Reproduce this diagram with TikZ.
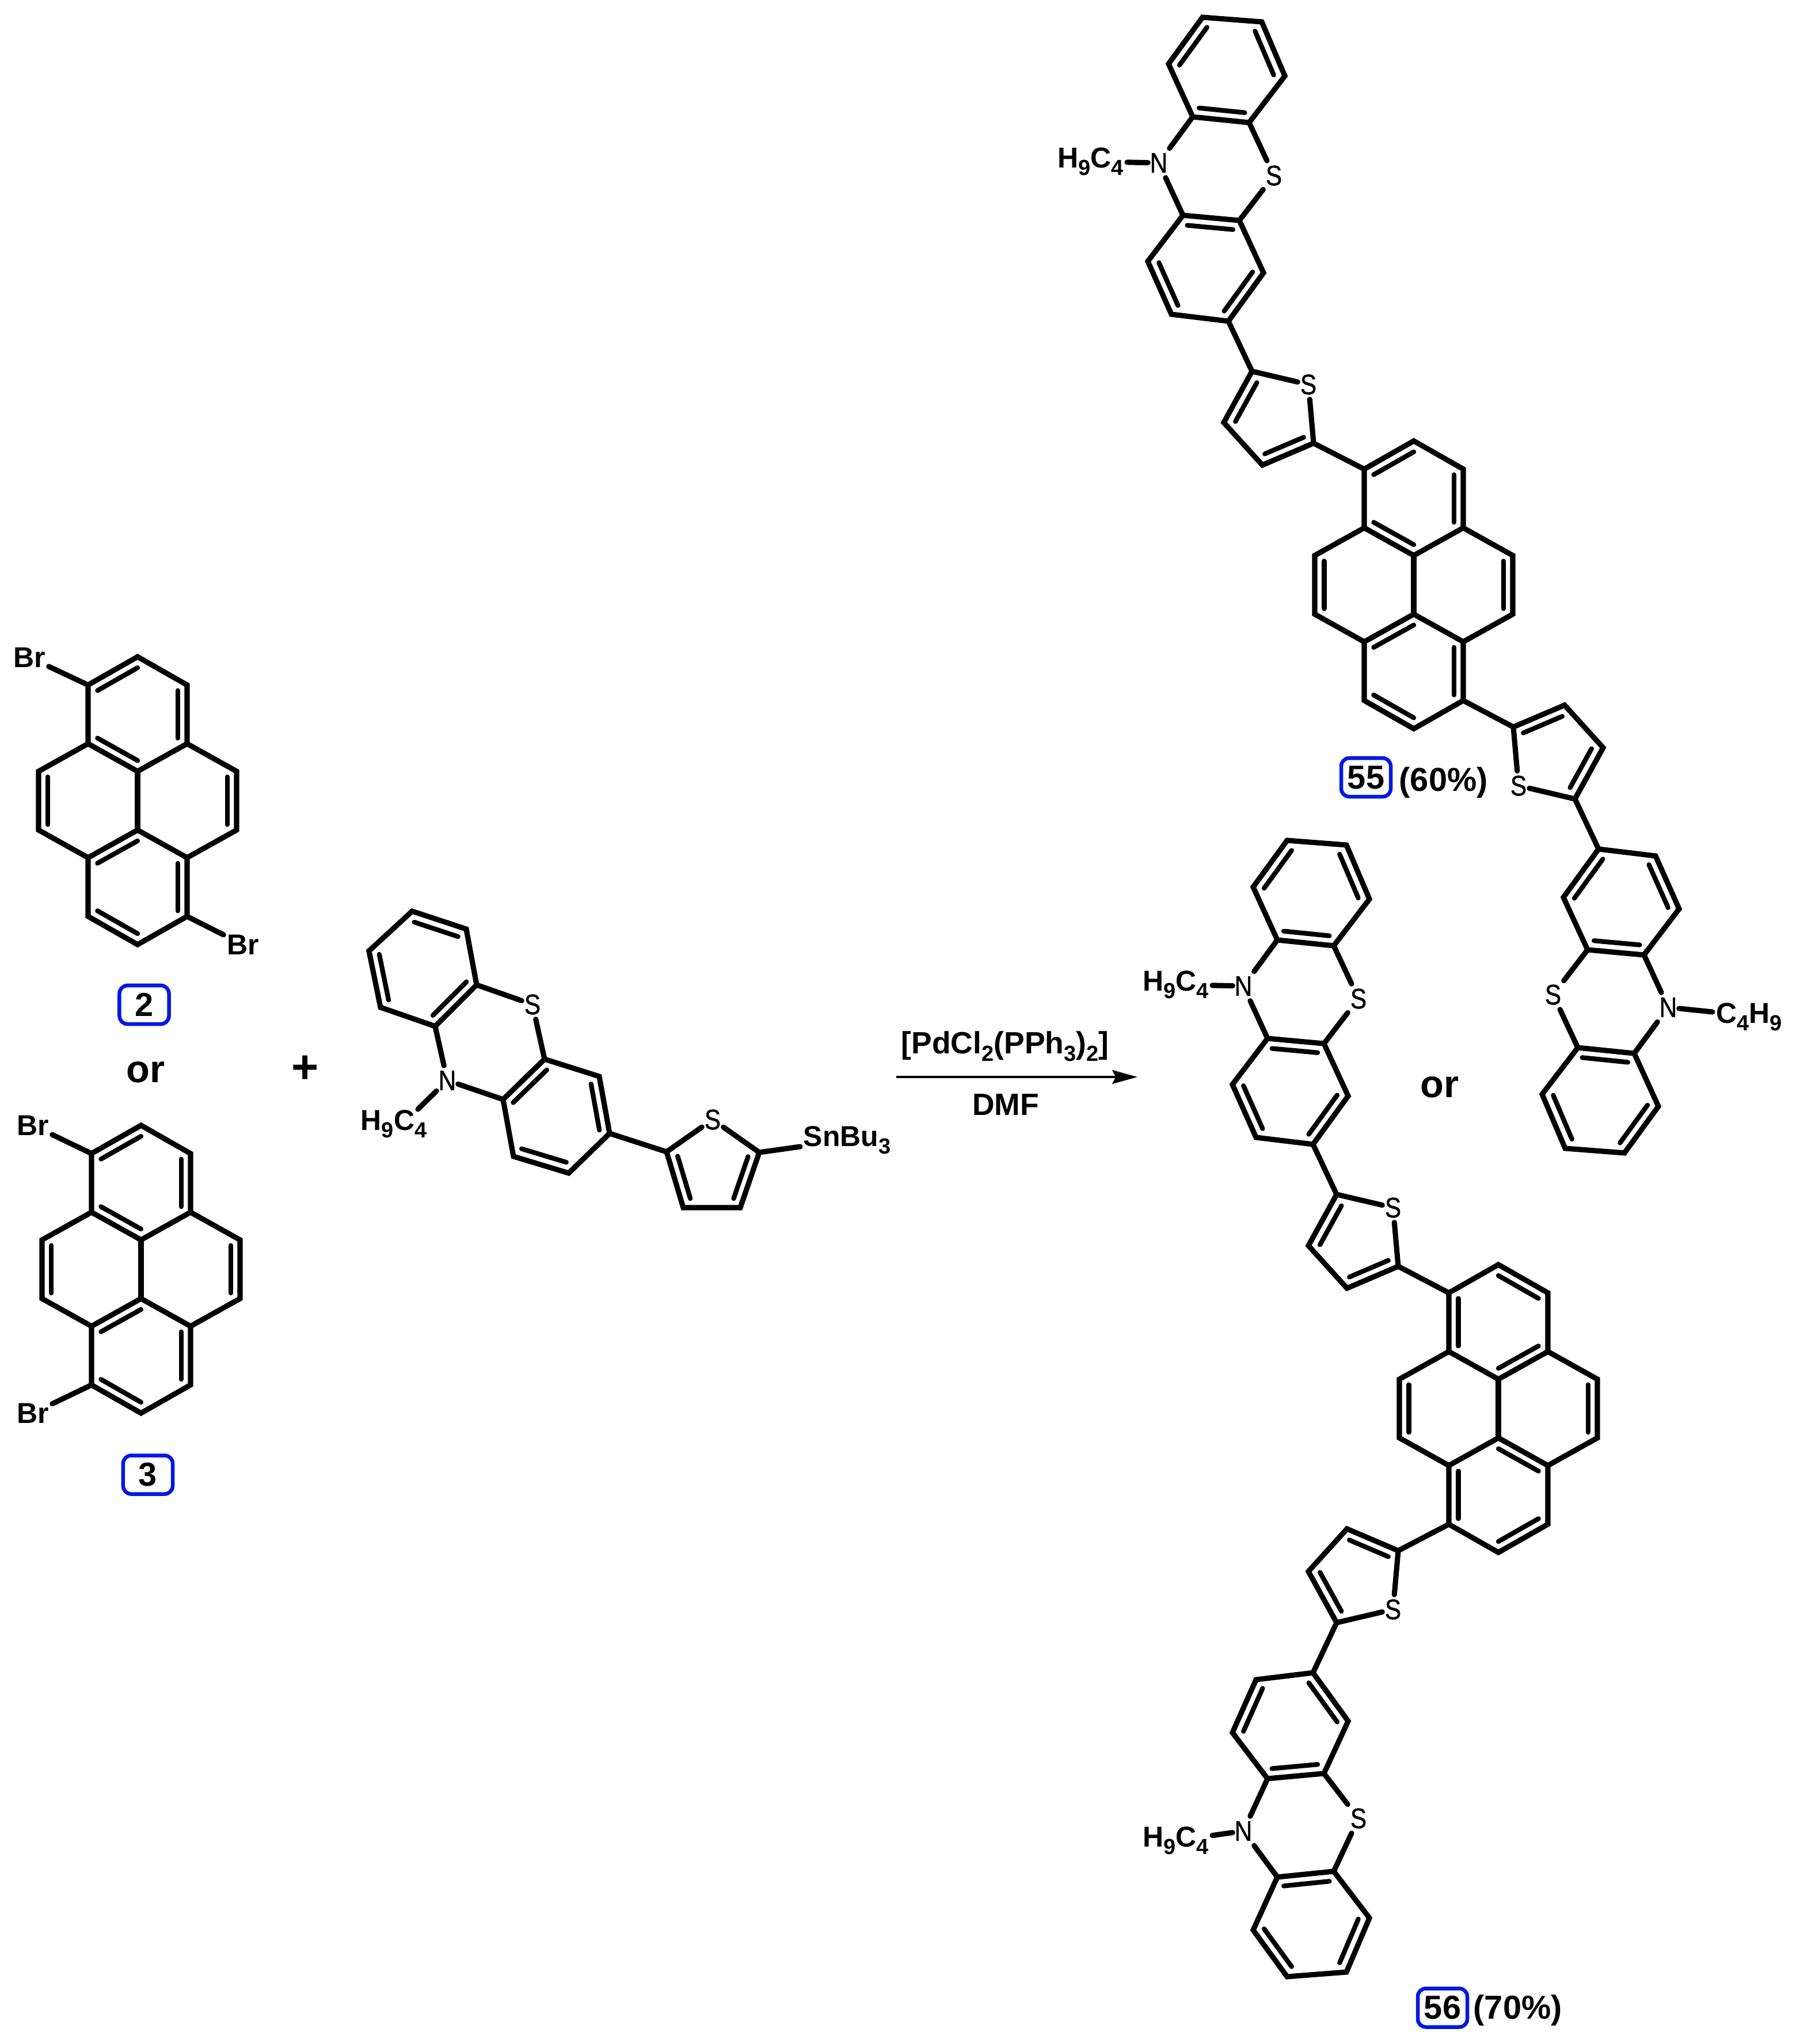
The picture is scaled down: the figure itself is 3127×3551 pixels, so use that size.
\documentclass[tikz,border=0pt]{standalone}
\usepackage{fontspec}
\setmainfont{Liberation Sans}
\newfontfamily\atomfont[FakeBold=1.0,FakeStretch=0.86]{Liberation Sans}
\usetikzlibrary{calc,arrows.meta}
\definecolor{boxblue}{RGB}{0,24,230}
\newcommand{\chsub}[1]{\raisebox{-3.9pt}{\fontsize{10.8}{12}\selectfont #1}}
\newcommand{\dbl}[4][.19]{\draw[innerbond] ($(#2)!#1!(#4)$) -- ($(#3)!#1!(#4)$);}
\tikzset{
    bond/.style={line width=2.6pt,line join=miter,line cap=round},
    innerbond/.style={line width=2.35pt,line cap=round},
    atom/.style={font=\atomfont\fontsize{14}{16}\selectfont,inner sep=0pt,minimum width=.36cm,minimum height=.5cm},
    lbl/.style={font=\bfseries\fontsize{14.2}{16}\selectfont,inner sep=1.5pt},
    reagent/.style={font=\bfseries\fontsize{15.2}{17}\selectfont,inner sep=0pt},
    capt/.style={font=\bfseries\fontsize{16.4}{18}\selectfont,inner sep=0pt},
    cmpd/.style={capt,draw=boxblue,line width=1.85pt,rounded corners=4pt,minimum width=.86cm,minimum height=.67cm},
    bigor/.style={font=\bfseries\fontsize{19}{21}\selectfont,inner sep=0pt},
    rxnarrow/.style={line width=1pt,-{Stealth[length=12.5pt,width=6.8pt,inset=1.8pt]}},
    pics/pyrene/.style={code={
        \foreach \n/\x/\y in {top/0/-250,upl/-86/-201,upr/86/-201,mul/-86/-99,mur/86/-99,ct/0/-51,cb/0/51,
            lf/-172/-51,lg/-172/51,rf/172/-51,rg/172/51,lwl/-86/99,lwr/86/99,btl/-86/201,btr/86/201,bot/0/250,
            rt/0/-150,rl/-86/0,rr/86/0,rb/0/150}
            {\coordinate (-\n) at (\x,\y);}
        \draw[bond] (-top) -- (-upr) -- (-mur) -- (-rf) -- (-rg) -- (-lwr) -- (-btr) -- (-bot) -- (-btl) -- (-lwl) -- (-lg) -- (-lf) -- (-mul) -- (-upl) -- cycle;
        \draw[bond] (-mul) -- (-ct) -- (-mur);
        \draw[bond] (-lwl) -- (-cb) -- (-lwr);
        \draw[bond] (-ct) -- (-cb);
        \dbl{-upl}{-top}{-rt}
        \dbl{-upr}{-mur}{-rt}
        \dbl{-mul}{-ct}{-rt}
        \dbl{-lf}{-lg}{-rl}
        \dbl{-rf}{-rg}{-rr}
        \dbl{-lwl}{-cb}{-rb}
        \dbl{-lwr}{-btr}{-rb}
        \dbl{-btl}{-bot}{-rb}
    }},
    pics/arm/.style={code={
        \foreach \n/\x/\y in {a1/-366/-987,a2/-263/-979,a3/-223/-885,a4/-285/-804,a5/-383/-814,a6/-425/-906,
            b1/-400/-643,b2/-302/-634,b3/-260/-543,b4/-321/-459,b5/-420/-471,b6/-461/-563,
            t1/-280/-372,t2/-173/-247,t3/-262/-209,t4/-329/-283,ca/-325/-895,cb/-360/-551,ct/-245/-290}
            {\coordinate (-\n) at (\x,\y);}
        \node[atom] (-s) at (-242,-712) {S};
        \node[atom] (-n) at (-442,-734) {N};
        \node[atom] (-q) at (-182,-349) {S};
        \draw[bond] (-a1) -- (-a2) -- (-a3) -- (-a4) -- (-a5) -- (-a6) -- cycle;
        \draw[bond] (-b1) -- (-b2) -- (-b3) -- (-b4) -- (-b5) -- (-b6) -- cycle;
        \draw[bond] (-a5) -- (-n);
        \draw[bond] (-n) -- (-b1);
        \draw[bond] (-a4) -- (-s);
        \draw[bond] (-s) -- (-b2);
        \draw[bond] (-b4) -- (-t1);
        \draw[bond] (-q) -- (-t1) -- (-t4) -- (-t3) -- (-t2) -- (-q);
        \dbl{-a1}{-a6}{-ca}
        \dbl{-a2}{-a3}{-ca}
        \dbl{-a4}{-a5}{-ca}
        \dbl{-b1}{-b2}{-cb}
        \dbl{-b3}{-b4}{-cb}
        \dbl{-b5}{-b6}{-cb}
        \dbl[.24]{-t1}{-t4}{-ct}
        \dbl[.24]{-t2}{-t3}{-ct}
    }},
}
\begin{document}
\begin{tikzpicture}[x=0.01cm,y=-0.01cm]
\useasboundingbox (0,0) rectangle (3127,3551);
% compound 2
\pic (pyb) at (239,1391) {pyrene};
\node[lbl] (brba) at (51,1142) {Br};
\node[lbl] (brbb) at (422,1641) {Br};
\draw[bond] (pyb-upl) -- (brba);
\draw[bond] (pyb-btr) -- (brbb);
\node[cmpd] (cb) at (250.5,1745.5) {2};
\node[bigor,anchor=base] (ora) at (253,1880) {or};
% compound 3
\pic (pyc) at (245,2205) {pyrene};
\node[lbl] (brca) at (57,1955) {Br};
\node[lbl] (brcb) at (57,2455) {Br};
\draw[bond] (pyc-upl) -- (brca);
\draw[bond] (pyc-btl) -- (brcb);
\node[cmpd] (cc) at (257,2562) {3};
\node[font=\bfseries\fontsize{23}{25}\selectfont,inner sep=0pt] (plus) at (530,1858) {+};
% stannane
\foreach \n/\x/\y in {ra/716/1583,rb/810/1614,rc/828/1711,rd/756/1783,re/661/1750,rf/641/1652,
    rg/946/1840,rh/1041/1870,ri/1059/1969,rj/988/2038,rk/892/2009,rl/874/1910,
    rm/1158/2001,rn/1319/2002,ro/1286/2098,rp/1187/2098,rca/735/1683,rcb/966/1939,rct/1238/2032,rbu/726/1927}
    {\coordinate (\n) at (\x,\y);}
\node[atom] (rs) at (925,1745) {S};
\node[atom] (rnn) at (777,1877) {N};
\node[atom] (rq) at (1238,1945) {S};
\node[lbl,anchor=base east,inner sep=0pt] (rhc) at (742,1963) {H\chsub{9}C\chsub{4}};
\node[lbl,anchor=base west,inner sep=1.5pt] (rsn) at (1390,1991) {SnBu\chsub{3}};
\draw[bond] (ra) -- (rb) -- (rc) -- (rd) -- (re) -- (rf) -- cycle;
\draw[bond] (rg) -- (rh) -- (ri) -- (rj) -- (rk) -- (rl) -- cycle;
\draw[bond] (rc) -- (rs);
\draw[bond] (rs) -- (rg);
\draw[bond] (rd) -- (rnn);
\draw[bond] (rnn) -- (rl);
\draw[bond] (rnn) -- (rbu);
\draw[bond] (ri) -- (rm);
\draw[bond] (rq) -- (rm) -- (rp) -- (ro) -- (rn) -- (rq);
\draw[bond] (rn) -- (rsn);
\dbl{ra}{rb}{rca}
\dbl{rc}{rd}{rca}
\dbl{re}{rf}{rca}
\dbl{rg}{rl}{rcb}
\dbl{rh}{ri}{rcb}
\dbl{rj}{rk}{rcb}
\dbl[.24]{rm}{rp}{rct}
\dbl[.24]{rn}{ro}{rct}
% arrow
\coordinate (arrs) at (1557,1871);
\coordinate (arre) at (1976,1871);
\draw[rxnarrow] (arrs) -- (arre);
\node[reagent,anchor=base] (pdc) at (1746,1830) {[PdCl\chsub{2}(PPh\chsub{3})\chsub{2}]};
\node[reagent,anchor=base] (dmf) at (1747,1937) {DMF};
% product 55
\pic (py55) at (2456,1016) {pyrene};
\pic (arm55a) at (2455,1017) {arm};
\pic[rotate=180] (arm55b) at (2456,1016) {arm};
\draw[bond] (arm55a-t2) -- (py55-upl);
\draw[bond] (arm55b-t2) -- (py55-btr);
\node[lbl,anchor=base east] (bu55a) at (1958,291) {H\chsub{9}C\chsub{4}};
\node[lbl,anchor=base west] (bu55b) at (2975,1777) {C\chsub{4}H\chsub{9}};
\coordinate (bu55c) at (2975,1758);
\draw[bond] (arm55a-n) -- (bu55a);
\draw[bond] (arm55b-n) -- (bu55c);
\node[cmpd] (c55) at (2373,1350.5) {55};
\node[capt,anchor=base west] (yld55) at (2430,1374) {(60\%)};
\node[bigor,anchor=base] (orb) at (2501,1906) {or};
% product 56
\pic[xscale=-1] (py56) at (2603,2447) {pyrene};
\pic (arm56a) at (2602,2447) {arm};
\pic[yscale=-1] (arm56b) at (2602,2447) {arm};
\draw[bond] (arm56a-t2) -- (py56-upr);
\draw[bond] (arm56b-t2) -- (py56-btr);
\node[lbl,anchor=base east] (bu56a) at (2106,1721) {H\chsub{9}C\chsub{4}};
\node[lbl,anchor=base east] (bu56b) at (2106,3208) {H\chsub{9}C\chsub{4}};
\draw[bond] (arm56a-n) -- (bu56a);
\draw[bond] (arm56b-n) -- (bu56b);
\node[cmpd] (c56) at (2506,3488) {56};
\node[capt,anchor=base west] (yld56) at (2559,3507) {(70\%)};
\end{tikzpicture}
\end{document}
